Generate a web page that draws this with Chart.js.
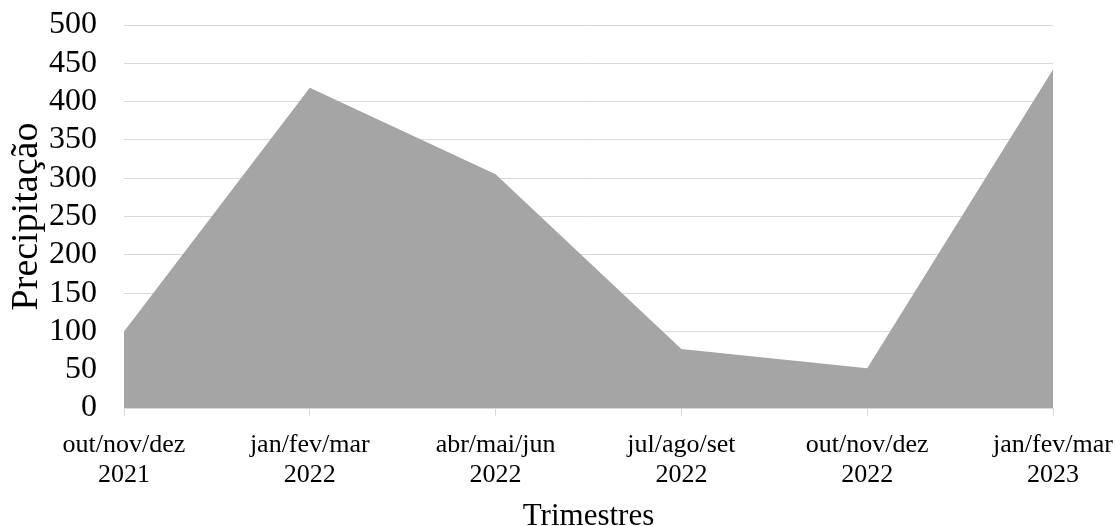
<!DOCTYPE html>
<html>
<head>
<meta charset="utf-8">
<script src="https://cdn.jsdelivr.net/npm/chart.js@4/dist/chart.umd.min.js"></script>
<style>
  html, body { margin: 0; padding: 0; background: #fff; }
  #wrap { width: 1116px; height: 526px; }
</style>
</head>
<body>
<div id="wrap"><canvas id="chart" width="1116" height="526"></canvas></div>
<script>
// Quarterly precipitation
const quarters = [
  ['out/nov/dez', '2021'],
  ['jan/fev/mar', '2022'],
  ['abr/mai/jun', '2022'],
  ['jul/ago/set', '2022'],
  ['out/nov/dez', '2022'],
  ['jan/fev/mar', '2023']
];
const precipitation = [100, 418, 305, 77, 52, 442];
const yMin = 0, yMax = 500, yStep = 50;

const serif = 'Liberation Serif, Times New Roman, serif';

new Chart(document.getElementById('chart'), {
  type: 'line',
  data: {
    labels: quarters,
    datasets: [{
      data: precipitation,
      fill: 'origin',
      backgroundColor: '#a5a5a5',
      borderWidth: 0,
      borderColor: '#a5a5a5',
      pointRadius: 0,
      tension: 0
    }]
  },
  options: {
    responsive: false,
    animation: false,
    layout: { padding: { top: 25, right: 63, left: 0, bottom: 0 } },
    plugins: { legend: { display: false }, tooltip: { enabled: false } },
    scales: {
      x: {
        offset: false,
        grid: { drawOnChartArea: false, drawTicks: true, tickLength: 8, color: '#d9d9d9', lineWidth: 1 },
        border: { display: true, color: '#d9d9d9' },
        ticks: { color: '#000', font: { family: serif, size: 26, lineHeight: 1.15 }, padding: 14, maxRotation: 0, autoSkip: false },
        title: { display: true, text: 'Trimestres', color: '#000', font: { family: serif, size: 31 }, padding: { top: 4, bottom: -9 } },
        afterFit(scale) {
          scale.height = 118;
          scale.paddingLeft = 0;
          scale.paddingRight = 0;
        }
      },
      y: {
        min: yMin, max: yMax,
        grid: { drawTicks: false, color: '#d9d9d9', lineWidth: 1 },
        border: { display: false },
        ticks: { stepSize: yStep, autoSkip: false, color: '#000', font: { family: serif, size: 32 }, padding: 27 },
        title: { display: true, text: 'Precipitação', color: '#000', font: { family: serif, size: 38 }, padding: { top: 4, bottom: 4 } },
        afterFit(scale) {
          scale.width = 124;
          scale.paddingTop = 0;
          scale.paddingBottom = 0;
        }
      }
    }
  }
});
</script>
</body>
</html>
